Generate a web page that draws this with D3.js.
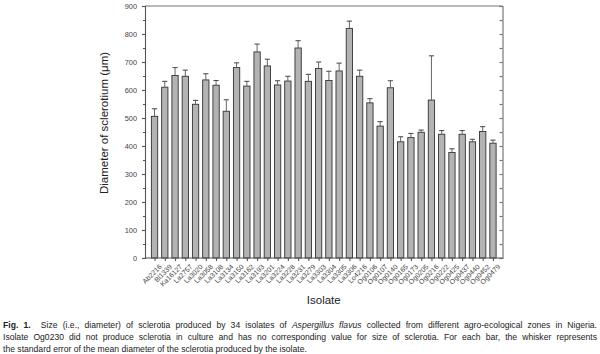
<!DOCTYPE html>
<html>
<head>
<meta charset="utf-8">
<script src="https://cdn.jsdelivr.net/npm/d3@7"></script>
<style>
  body { margin: 0; background: #fff; font-family: "Liberation Sans", Arial, sans-serif; }
  .wrap { position: relative; width: 600px; height: 354px; overflow: hidden; }
  .cap-line { position: absolute; left: 3px; width: 594px; font-size: 8.6px; line-height: 10px; white-space: nowrap; color: #222; }
  .cap-line.just { text-align: justify; text-align-last: justify; white-space: normal; }
</style>
</head>
<body>
<div class="wrap"></div>
<script>
const isolates = ["Ab2216", "Bl1339", "Ka16127", "La2757", "La3020", "La3058", "La3108", "La3134",
  "La3150", "La3162", "La3193", "La3201", "La3224", "La3228", "La3231", "La3279", "La3303",
  "La3304", "La3305", "La3306", "Lo4216", "Og0106", "Og0107", "Og0140", "Og0165", "Og0173",
  "Og0205", "Og0216", "Og0222", "Og0425", "Og0437", "Og0440", "Og0452", "Og0479"];
const diameter = [506, 610, 652, 649, 549, 636, 617, 524, 680, 614, 736, 686, 618, 632, 750, 631,
  677, 634, 668, 820, 649, 554, 471, 608, 415, 430, 449, 564, 442, 377, 442, 415, 452, 410];
const stdErr = [27, 21, 28, 22, 14, 22, 17, 41, 17, 17, 28, 24, 15, 17, 26, 25, 23, 33, 28, 26,
  22, 15, 16, 25, 18, 15, 8, 158, 13, 13, 13, 9, 17, 11];
const yTicks = [0, 100, 200, 300, 400, 500, 600, 700, 800, 900];
const captionLines = [
  "<b>Fig. 1.</b>&nbsp; Size (i.e., diameter) of sclerotia produced by 34 isolates of <i>Aspergillus flavus</i> collected from different agro-ecological zones in Nigeria.",
  "Isolate Og0230 did not produce sclerotia in culture and has no corresponding value for size of sclerotia. For each bar, the whisker represents",
  "the standard error of the mean diameter of the sclerotia produced by the isolate."
];

const margin = { top: 6, right: 97.5, bottom: 96, left: 145 },
  width = 600 - margin.left - margin.right,
  height = 354 - margin.top - margin.bottom;

const svg = d3.select(".wrap").append("svg")
  .attr("width", 600)
  .attr("height", 354)
  .style("position", "absolute")
  .style("left", 0)
  .style("top", 0);

const g = svg.append("g")
  .attr("transform", "translate(" + margin.left + "," + margin.top + ")");

let x = d3.scalePoint().domain(isolates).range([0, width]).padding(0.93);
let y = d3.scaleLinear().domain([0, 900]).range([height, 0]);
const barW = 6.3;
const axisColor = "#555";

// bars
g.selectAll(".bar")
  .data(isolates)
  .enter()
  .append("rect")
  .attr("class", "bar")
  .attr("x", (d) => x(d) - barW / 2)
  .attr("y", (d, i) => y(diameter[i]))
  .attr("width", barW)
  .attr("height", (d, i) => height - y(diameter[i]))
  .attr("fill", "#b3b3b3")
  .attr("stroke", "#333")
  .attr("stroke-width", 0.9);

// whiskers (upper only)
const whisk = g.selectAll(".whisker").data(isolates).enter().append("g").attr("class", "whisker");
whisk.append("line")
  .attr("x1", (d) => x(d)).attr("x2", (d) => x(d))
  .attr("y1", (d, i) => y(diameter[i]))
  .attr("y2", (d, i) => y(diameter[i] + stdErr[i]))
  .attr("stroke", "#555").attr("stroke-width", 0.9);
whisk.append("line")
  .attr("x1", (d) => x(d) - 2.6).attr("x2", (d) => x(d) + 2.6)
  .attr("y1", (d, i) => y(diameter[i] + stdErr[i]))
  .attr("y2", (d, i) => y(diameter[i] + stdErr[i]))
  .attr("stroke", "#444").attr("stroke-width", 1);

// frame: top and right
g.append("line").attr("x1", 0).attr("x2", width).attr("y1", 0).attr("y2", 0)
  .attr("stroke", "#777").attr("stroke-width", 1.2);

let yRight = d3.axisLeft(y).ticks(18).tickSize(3).tickFormat("");
g.append("g").attr("class", "y-right")
  .attr("transform", "translate(" + width + ",0)")
  .call(yRight)
  .call((s) => s.selectAll("line,path").attr("stroke", "#777").attr("stroke-width", 1.2));

// left axis
let yAxis = d3.axisLeft(y).tickValues(yTicks).tickSize(3).tickPadding(5);
let yMinor = d3.axisLeft(y).tickValues(d3.range(50, 900, 100)).tickSize(2).tickFormat("");
g.append("g").attr("class", "y-minor").call(yMinor)
  .call((s) => s.select(".domain").remove())
  .call((s) => s.selectAll("line").attr("stroke", axisColor));
g.append("g").attr("class", "y-axis").call(yAxis)
  .call((s) => s.selectAll("line,path").attr("stroke", axisColor).attr("stroke-width", 1.1))
  .call((s) => s.selectAll("text").attr("fill", "#444").style("font-size", "7.4px")
    .style("font-family", "Liberation Sans, Arial, sans-serif"));

// bottom axis
let xAxis = d3.axisBottom(x).tickSize(3).tickSizeOuter(0).tickPadding(2);
g.append("g").attr("class", "x-axis")
  .attr("transform", "translate(0," + height + ")")
  .call(xAxis)
  .call((s) => s.select(".domain").attr("d", "M0,0H" + width))
  .call((s) => s.selectAll("line,path").attr("stroke", axisColor).attr("stroke-width", 1.1))
  .call((s) => s.selectAll("text")
    .attr("fill", "#444")
    .style("font-size", "7px")
    .style("font-family", "Liberation Sans, Arial, sans-serif")
    .attr("text-anchor", "end")
    .attr("dy", "0.35em")
    .attr("transform", "translate(2,4) rotate(-45)"));

// axis titles
g.append("text")
  .attr("transform", "translate(" + (-37) + "," + 117 + ") rotate(-90)")
  .attr("text-anchor", "middle")
  .attr("fill", "#222")
  .style("font-size", "11.5px")
  .text("Diameter of sclerotium (\u03bcm)");

g.append("text")
  .attr("x", width / 2)
  .attr("y", 298)
  .attr("text-anchor", "middle")
  .attr("fill", "#222")
  .style("font-size", "11.5px")
  .text("Isolate");

// caption, one div per printed line
d3.select(".wrap").selectAll(".cap-line")
  .data(captionLines)
  .enter()
  .append("div")
  .attr("class", (d, i) => (i < 2 ? "cap-line just" : "cap-line"))
  .style("top", (d, i) => 320 + i * 11.8 + "px")
  .html((d) => d);
</script>
</body>
</html>
